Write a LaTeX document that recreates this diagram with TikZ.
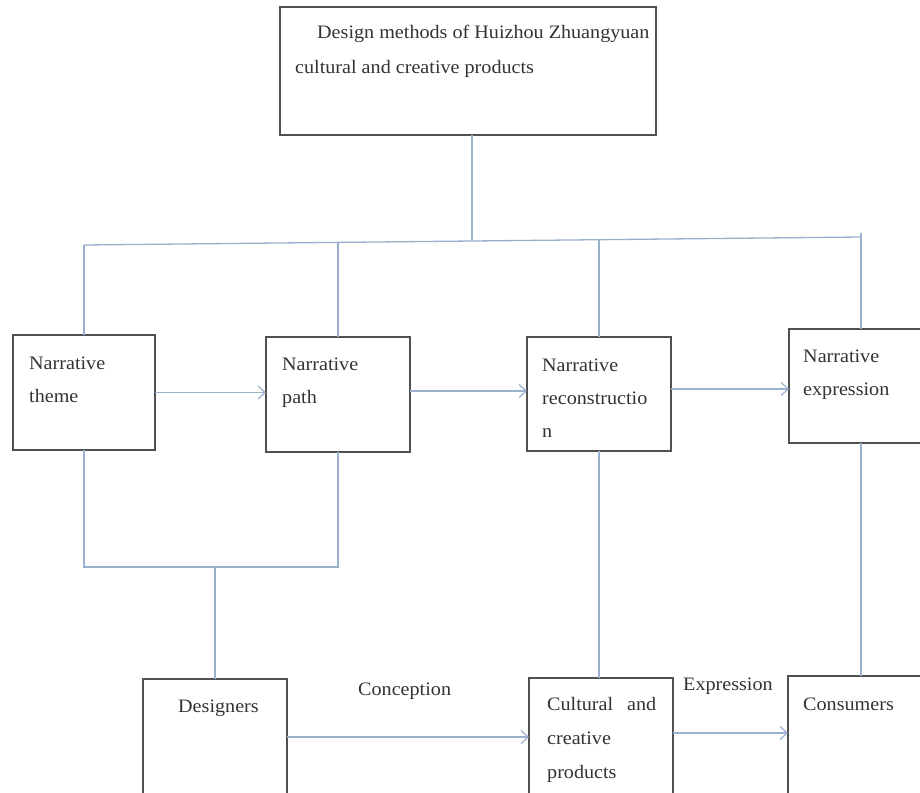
\documentclass[tikz,border=0pt]{standalone}
\usepackage{fontspec}
\setmainfont{Liberation Serif}[FakeStretch=1.06]
\usetikzlibrary{arrows.meta}
\definecolor{conn}{HTML}{9AB0CF}
\definecolor{boxline}{HTML}{505050}
\definecolor{txt}{HTML}{333333}
\tikzset{
  x=1pt, y=-1pt,
  box/.style={draw=boxline, line width=1.3pt, inner sep=0pt, outer sep=0pt, anchor=north west, fill=white},
  txtnode/.style={anchor=base west, inner sep=0pt, align=left, text=txt, font=\fontsize{19}{33}\selectfont},
  conline/.style={draw=conn, line width=1.3pt},
  arr/.style={conline, -{Straight Barb[length=7pt,width=13pt,line width=1.2pt]}}
}
\begin{document}
\begin{tikzpicture}
\clip (0,0) rectangle (920,792);
\fill[white] (0,0) rectangle (920,792);
% boxes
\node[box, minimum width=376pt, minimum height=128pt] (top) at (280,7) {};
\node[box, minimum width=142pt, minimum height=115pt] (theme) at (13,335) {};
\node[box, minimum width=144pt, minimum height=115pt] (path) at (266,337) {};
\node[box, minimum width=144pt, minimum height=114pt] (recon) at (527,337) {};
\node[box, minimum width=144pt, minimum height=114pt] (expr) at (789,329) {};
\node[box, minimum width=144pt, minimum height=116pt] (des) at (143,679) {};
\node[box, minimum width=144pt, minimum height=116pt] (ccp) at (529,678) {};
\node[box, minimum width=144pt, minimum height=118pt] (cons) at (788,676) {};
% texts (anchor = baseline of the last line)
\node[txtnode, font=\fontsize{19}{35}\selectfont] (topT) at (295,74) {\hspace*{22pt}Design methods of Huizhou Zhuangyuan\\cultural and creative products};
\node[txtnode] (themeT) at (29,402) {Narrative\\theme};
\node[txtnode] (pathT) at (282,403) {Narrative\\path};
\node[txtnode] (reconT) at (542,437) {Narrative\\reconstructio\\n};
\node[txtnode] (exprT) at (803,395) {Narrative\\expression};
\node[txtnode] (desT) at (178,712) {Designers};
\node[txtnode, font=\fontsize{19}{34}\selectfont] (ccpT) at (547,778) {\hbox to 109pt{Cultural\hfill and}\\creative\\products};
\node[txtnode] (consT) at (803,710) {Consumers};
\node[txtnode] (concL) at (358,695) {Conception};
\node[txtnode] (exprL) at (683,690) {Expression};
% bus
\coordinate (b1) at (84,245);
\coordinate (b2) at (338,242.4);
\coordinate (bc) at (472,241);
\coordinate (b3) at (599,239.7);
\coordinate (b4) at (861,237);
\coordinate (b4t) at (861,233);
\draw[conline] (b1) -- (b4);
\draw[conline] (top.south -| bc) -- (bc);
\draw[conline] (b1) -- (theme.north);
\draw[conline] (b2) -- (path.north);
\draw[conline] (b3) -- (recon.north);
\draw[conline] (b4t) -- (expr.north);
% horizontal arrows
\draw[arr] (theme.east) -- (theme.east -| path.west);
\draw[arr] (path.east |- 0,391) -- (recon.west |- 0,391);
\draw[arr] (recon.east |- 0,389) -- (expr.west |- 0,389);
\draw[arr] (des.east) -- (des.east -| ccp.west);
\draw[arr] (ccp.east |- 0,733) -- (cons.west |- 0,733);
% lower joins
\coordinate (j1) at (84,567);
\coordinate (j2) at (338,567);
\coordinate (jd) at (215,567);
\draw[conline] (theme.south) -- (j1) -- (j2) -- (path.south);
\draw[conline] (jd) -- (des.north);
\draw[conline] (recon.south) -- (recon.south |- ccp.north);
\draw[conline] (expr.south) -- (expr.south |- cons.north);
\end{tikzpicture}
\end{document}
